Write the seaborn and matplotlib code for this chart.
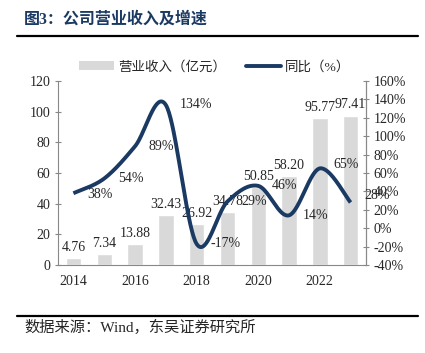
import numpy as np
import pandas as pd
import matplotlib
matplotlib.use("Agg")
import matplotlib.pyplot as plt
import seaborn as sns
from matplotlib.lines import Line2D
from matplotlib.patches import Patch

years = [2014, 2015, 2016, 2017, 2018, 2019, 2020, 2021, 2022, 2023]
revenue = [4.76, 7.34, 13.88, 32.43, 26.92, 34.78, 50.85, 58.20, 95.77, 97.41]
growth = [38, 54, 89, 134, -17, 29, 46, 14, 65, 28]
xtick_labels = ["2014", "", "2016", "", "2018", "", "2020", "", "2022", ""]

sns.set_style("white")
plt.rcParams['font.family'] = ['Liberation Serif', 'Noto Sans CJK SC']
plt.rcParams['axes.unicode_minus'] = False

BAR = "#d9d9d9"
NAVY = "#1b3a63"
AX = "#888888"
FS = 10

fig = plt.figure(figsize=(4.25, 3.53), dpi=100)
ax = fig.add_axes([58/425, 1-265/353, (366-58)/425, (265-81)/353])

df = pd.DataFrame({"year": [str(y) for y in years], "rev": revenue})
sns.barplot(data=df, x="year", y="rev", color=BAR, width=0.5, ax=ax, saturation=1)
ax.set_xlim(-0.5, len(years) - 0.5)
ax.set_ylim(0, 120)
ax.set_yticks(np.arange(0, 121, 20))
ax.set_xlabel("")
ax.set_ylabel("")
ax.set_xticks(range(len(years)))
ax.set_xticklabels(xtick_labels)
ax.tick_params(axis='x', length=0, labelsize=FS, pad=7)
ax.set_xticks(np.arange(-0.5, len(years), 1), minor=True)
ax.tick_params(axis='x', which='minor', length=4, color=AX, direction='inout')
ax.tick_params(axis='y', length=4, color=AX, labelsize=FS, direction='inout')
for s in ['top']:
    ax.spines[s].set_visible(False)
for s in ['left', 'bottom', 'right']:
    ax.spines[s].set_color(AX)
    ax.spines[s].set_linewidth(0.8)

for i, v in enumerate(revenue):
    ax.annotate(f"{v:.2f}", (i, v), xytext=(0, 3), textcoords="offset points",
                ha='center', va='bottom', fontsize=FS)

ax2 = ax.twinx()
ax2.set_ylim(-40, 160)
ax2.set_yticks(np.arange(-40, 161, 20))
ax2.set_yticklabels([f"{t}%" for t in range(-40, 161, 20)])
ax2.tick_params(axis='y', length=4, color=AX, labelsize=FS, direction='inout')
for s in ['top', 'left', 'bottom']:
    ax2.spines[s].set_visible(False)
ax2.spines['right'].set_color(AX)
ax2.spines['right'].set_linewidth(0.8)

# Catmull-Rom smoothing (Excel-like smoothed line)
xs = np.arange(len(growth), dtype=float)
ys = np.array(growth, dtype=float)
P = np.column_stack([xs, ys])
Pext = np.vstack([P[0], P, P[-1]])
curve = []
t = np.linspace(0, 1, 40)[:, None]
for i in range(len(P) - 1):
    p0, p1, p2, p3 = Pext[i], Pext[i+1], Pext[i+2], Pext[i+3]
    b1 = p1 + (p2 - p0) / 6
    b2 = p2 - (p3 - p1) / 6
    seg = ((1-t)**3) * p1 + 3*((1-t)**2)*t*b1 + 3*(1-t)*t**2*b2 + t**3*p2
    curve.append(seg if i == 0 else seg[1:])
curve = np.vstack(curve)
sdf = pd.DataFrame({"x": curve[:, 0], "y": curve[:, 1]})
sns.lineplot(data=sdf, x="x", y="y", sort=False, color=NAVY, lw=2.8, ax=ax2,
             solid_capstyle='butt')
ax2.set_xlabel("")
ax2.set_ylabel("")
ax2.set_xlim(-0.5, len(years) - 0.5)

dy = [-1, 0, 0, 0, 0, 0, 0, 0, 3, 5]
for i, g in enumerate(growth):
    ax2.annotate(f"{g}%", (i, g), xytext=(10, dy[i]), textcoords="offset points",
                 ha='left', va='center', fontsize=FS)

handles = [Patch(facecolor=BAR, edgecolor='none'),
           Line2D([0], [0], color=NAVY, lw=2.8)]
fig.legend(handles, ["营业收入（亿元）", "同比（%）"], loc='center',
           bbox_to_anchor=(0.505, 1-67/353), ncol=2, frameon=False,
           fontsize=9.7, handlelength=2.6, columnspacing=1.5, handletextpad=0.3)

fig.text(24/425, 1-20/353, "图3：公司营业收入及增速", fontsize=11.5, fontweight='bold',
         color=NAVY, ha='left', va='center')
fig.add_artist(Line2D([17/425, 418/425], [1-36/353, 1-36/353], color='black', lw=1.6))
fig.add_artist(Line2D([17/425, 418/425], [1-316/353, 1-316/353], color='black', lw=1.6))
fig.text(24/425, 1-327/353, "数据来源：Wind，东吴证券研究所", fontsize=11,
         ha='left', va='center')

fig.savefig("out.png", dpi=100)
